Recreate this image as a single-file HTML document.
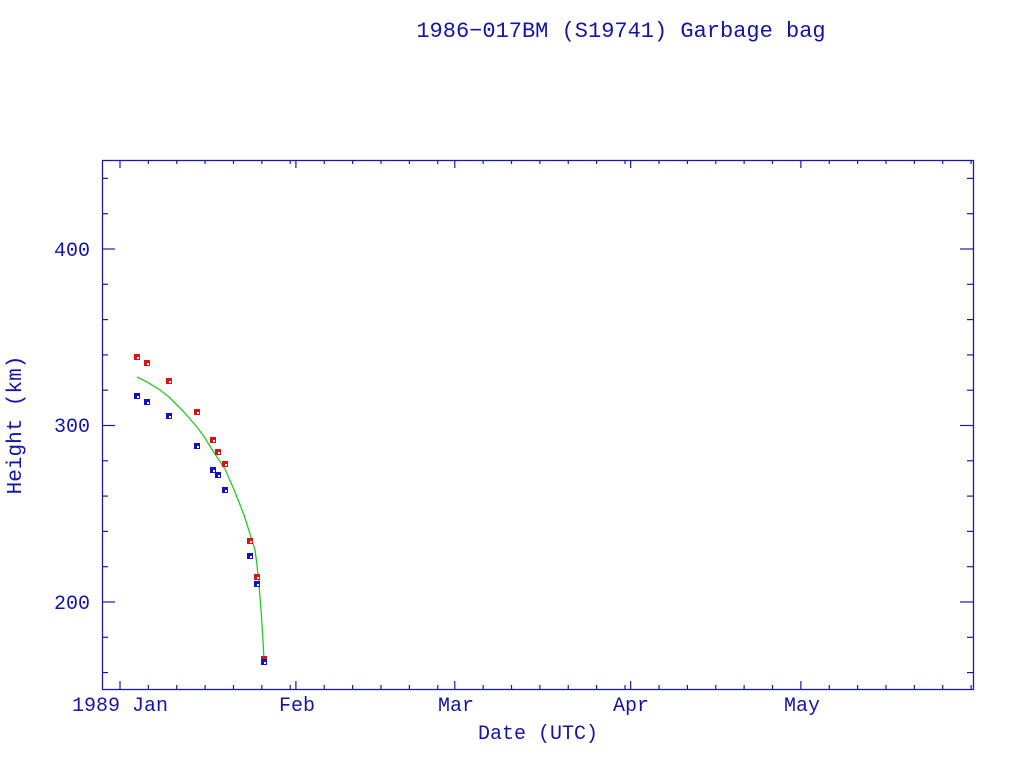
<!DOCTYPE html>
<html><head><meta charset="utf-8"><style>
html,body{margin:0;padding:0;background:#fff;}
svg{display:block;}
text{font-family:"Liberation Mono",monospace;fill:#1414a8;}
</style></head><body>
<svg width="1024" height="768" viewBox="0 0 1024 768" xmlns="http://www.w3.org/2000/svg">
<text x="621" y="37" font-size="22" text-anchor="middle">1986−017BM (S19741) Garbage bag</text>
<rect x="102.5" y="160.5" width="871" height="529" fill="none" stroke="#1a1aa6" stroke-width="1.3"/>
<g id="ticks" stroke="#1a1aa6" stroke-width="1.2"></g>
<g font-size="20">
<text x="90" y="256" text-anchor="end">400</text>
<text x="90" y="432" text-anchor="end">300</text>
<text x="90" y="609" text-anchor="end">200</text>
<text x="120" y="711" text-anchor="middle">1989 Jan</text>
<text x="297" y="711" text-anchor="middle">Feb</text>
<text x="456" y="711" text-anchor="middle">Mar</text>
<text x="631" y="711" text-anchor="middle">Apr</text>
<text x="802" y="711" text-anchor="middle">May</text>
<text x="538" y="739" text-anchor="middle">Date (UTC)</text>
<text transform="translate(21,425) rotate(-90)" text-anchor="middle" font-size="21">Height (km)</text>
</g>
<polyline fill="none" stroke="#22cc22" stroke-width="1.3" points="137,377 147,382 160,390 169,397 183,411 197,427 205,438 213,451 225,469 235,492 244,515 250,534 255,550 257,565 259,585 261,610 263,640 264,660"/>
<g id="pts"></g>
</svg>
<script>
var ns="http://www.w3.org/2000/svg",t=document.getElementById("ticks"),p=document.getElementById("pts");
function L(x1,y1,x2,y2){var l=document.createElementNS(ns,"line");l.setAttribute("x1",x1);l.setAttribute("y1",y1);l.setAttribute("x2",x2);l.setAttribute("y2",y2);t.appendChild(l);}
for(var v=160;v<=440;v+=20){var y=602-(v-200)*1.765;var M=(v%100==0)?13:6;L(102,y,102+M,y);L(973,y,973-M,y);}
var months=[0,31,59,90,120,151];
for(var m=0;m<5;m++){var d0=months[m];var n=months[m+1]-d0;
 for(var d=0;d<n;d+=5){var x=120+(d0+d)*5.674;if(x>973)break;var M=d==0?8:4;L(x,689,x,689-M);L(x,160,x,160+M);}}
function S(x,y,c){var r=document.createElementNS(ns,"rect");r.setAttribute("x",x-3);r.setAttribute("y",y-3);r.setAttribute("width",6);r.setAttribute("height",6);r.setAttribute("fill",c);p.appendChild(r);
 var w=document.createElementNS(ns,"rect");w.setAttribute("x",x);w.setAttribute("y",y);w.setAttribute("width",2);w.setAttribute("height",2);w.setAttribute("fill","#fff");p.appendChild(w);}
[[137,357],[147,363],[169,381],[197,412],[213,440],[218,452],[225,464],[250,541],[257,577],[264,659]].forEach(function(a){S(a[0],a[1],"#dd1111");});
[[137,396],[147,402],[169,416],[197,446],[213,470],[218,475],[225,490],[250,556],[257,584],[264,662]].forEach(function(a){S(a[0],a[1],"#1111cc");});
</script>
</body></html>
